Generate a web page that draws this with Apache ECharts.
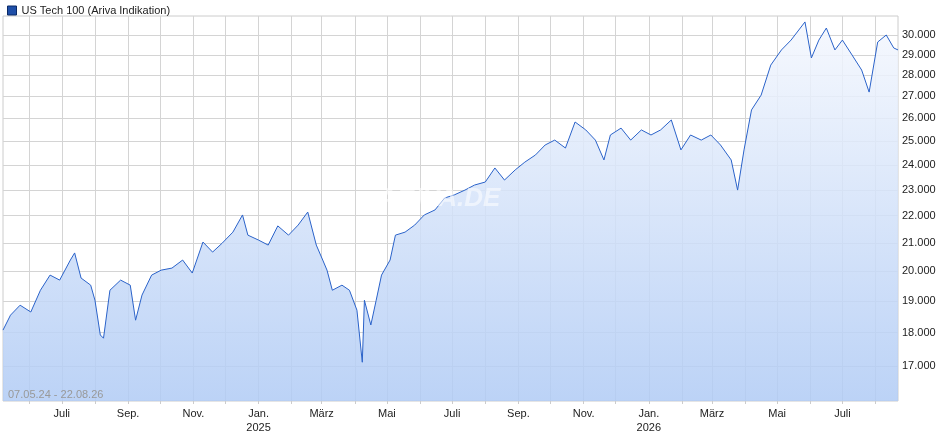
<!DOCTYPE html>
<html>
<head>
<meta charset="utf-8">
<script src="https://cdn.jsdelivr.net/npm/echarts@6/dist/echarts.min.js"></script>
<style>html,body{margin:0;padding:0;background:#fff}#main{width:940px;height:435px}</style>
</head>
<body>
<div id="main"></div>
<script>
var dates = ['2024-05-07','2024-05-14','2024-05-23','2024-06-02','2024-06-11','2024-06-20','2024-06-29','2024-07-09','2024-07-13','2024-07-19','2024-07-28','2024-08-01','2024-08-06','2024-08-09','2024-08-15','2024-08-25','2024-09-03','2024-09-08','2024-09-14','2024-09-23','2024-10-02','2024-10-12','2024-10-22','2024-10-31','2024-11-10','2024-11-19','2024-11-28','2024-12-08','2024-12-17','2024-12-22','2025-01-01','2025-01-10','2025-01-19','2025-01-29','2025-02-07','2025-02-16','2025-02-24','2025-03-02','2025-03-06','2025-03-11','2025-03-20','2025-03-27','2025-04-03','2025-04-08','2025-04-10','2025-04-16','2025-04-21','2025-04-26','2025-05-04','2025-05-09','2025-05-18','2025-05-27','2025-06-05','2025-06-15','2025-06-24','2025-07-03','2025-07-13','2025-07-22','2025-08-01','2025-08-10','2025-08-19','2025-08-29','2025-09-07','2025-09-17','2025-09-26','2025-10-05','2025-10-15','2025-10-24','2025-11-03','2025-11-12','2025-11-20','2025-11-26','2025-12-06','2025-12-15','2025-12-25','2026-01-03','2026-01-12','2026-01-22','2026-01-31','2026-02-09','2026-02-19','2026-02-28','2026-03-09','2026-03-19','2026-03-25','2026-03-31','2026-04-07','2026-04-16','2026-04-25','2026-05-05','2026-05-14','2026-05-27','2026-06-02','2026-06-09','2026-06-16','2026-06-24','2026-07-01','2026-07-10','2026-07-19','2026-07-26','2026-08-03','2026-08-11','2026-08-18','2026-08-22'];
var values = [18080,18550,18870,18650,19360,19870,19700,20390,20640,19770,19530,19030,17930,17830,19360,19700,19530,18390,19200,19870,20040,20110,20390,19940,21030,20670,20990,21390,22030,21280,21100,20920,21620,21280,21650,22140,20920,20390,20040,19360,19530,19360,18710,17110,19030,18240,19030,19870,20390,21280,21390,21650,22030,22220,22680,22800,22990,23190,23310,23880,23390,23800,24120,24420,24840,25050,24710,25840,25490,25050,24210,25270,25570,25050,25490,25270,25490,25930,24630,25270,25050,25270,24840,24210,22990,24630,26380,27060,28490,29240,29740,30680,28840,29740,30360,29240,29740,28990,28250,27200,29640,30000,29340,29240];
var yTicks = [17000,18000,19000,20000,21000,22000,23000,24000,25000,26000,27000,28000,29000,30000];
var monthNames = ['Jan.','Feb.','März','Apr.','Mai','Juni','Juli','Aug.','Sep.','Okt.','Nov.','Dez.'];

// all calendar days as category axis
var days = [];
var d = new Date(Date.UTC(2024,4,7)), end = new Date(Date.UTC(2026,7,22));
while (d <= end) { days.push(d.toISOString().slice(0,10)); d.setUTCDate(d.getUTCDate()+1); }
function isMonthStart(i){ return days[i].slice(8) === '01'; }
function isLabelDay(i){ var m = +days[i].slice(5,7); return isMonthStart(i) && m % 2 === 1; }

var chart = echarts.init(document.getElementById('main'));
chart.setOption({
  animation: false,
  grid: {left: 3, right: 42, top: 16, bottom: 34, show: true, borderColor: '#cccccc', borderWidth: 1},
  legend: {left: 2, top: 0, itemWidth: 9, itemHeight: 9, itemGap: 4, icon: 'rect',
    textStyle: {fontFamily: 'Liberation Sans', fontSize: 11, color: '#222'},
    data: [{name: 'US Tech 100 (Ariva Indikation)', itemStyle: {color: '#1f4fa8', borderColor: '#0b2a66', borderWidth: 1}}]},
  graphic: [
    {type: 'text', left: 8, top: 389, z: 100, style: {text: '07.05.24 - 22.08.26', fill: '#999', font: '11px Liberation Sans'}},
    {type: 'text', left: 378, top: 186, z: 100, style: {text: 'ARIVA.DE', fill: 'rgba(255,255,255,0.55)', font: 'italic bold 26px Liberation Sans'}}
  ],
  xAxis: {
    type: 'category', data: days, boundaryGap: false,
    axisLine: {show: false},
    axisTick: {show: true, interval: function(i){ return isMonthStart(i); }, length: 3, lineStyle: {color: '#ccc'}},
    splitLine: {show: true, interval: function(i){ return isMonthStart(i); }, lineStyle: {color: '#d4d4d4'}},
    axisLabel: {interval: function(i){ return isLabelDay(i); }, color: '#222', fontFamily: 'Liberation Sans', fontSize: 11, margin: 6, lineHeight: 14,
      formatter: function(v){ var m = +v.slice(5,7); var t = monthNames[m-1]; return m === 1 ? t + '\n' + v.slice(0,4) : t; }}
  },
  yAxis: {
    type: 'log', position: 'right', min: 16009, max: 30994,
    axisLine: {show: false}, axisTick: {show: false},
    splitLine: {show: false},
    axisLabel: {customValues: yTicks, color: '#222', fontFamily: 'Liberation Sans', fontSize: 11, margin: 4,
      formatter: function(v){ return (v/1000).toFixed(3); }}
  },
  series: [
    {name: 'US Tech 100 (Ariva Indikation)', type: 'line', data: dates.map(function(t,i){ return [t, values[i]]; }),
      connectNulls: true, showSymbol: false, symbol: 'none',
      lineStyle: {color: '#2a62c9', width: 1},
      itemStyle: {color: '#1f4fa8'},
      areaStyle: {origin: 'start', opacity: 0.85, color: new echarts.graphic.LinearGradient(0,0,0,1,[{offset:0,color:'#f5f8fe'},{offset:1,color:'#b0cbf5'}])},
      markLine: {silent: true, symbol: 'none', label: {show: false}, lineStyle: {color: '#d4d4d4', type: 'solid', width: 1}, z: 0,
        data: yTicks.map(function(v){ return {yAxis: v}; })}
    }
  ]
});
</script>
</body>
</html>
